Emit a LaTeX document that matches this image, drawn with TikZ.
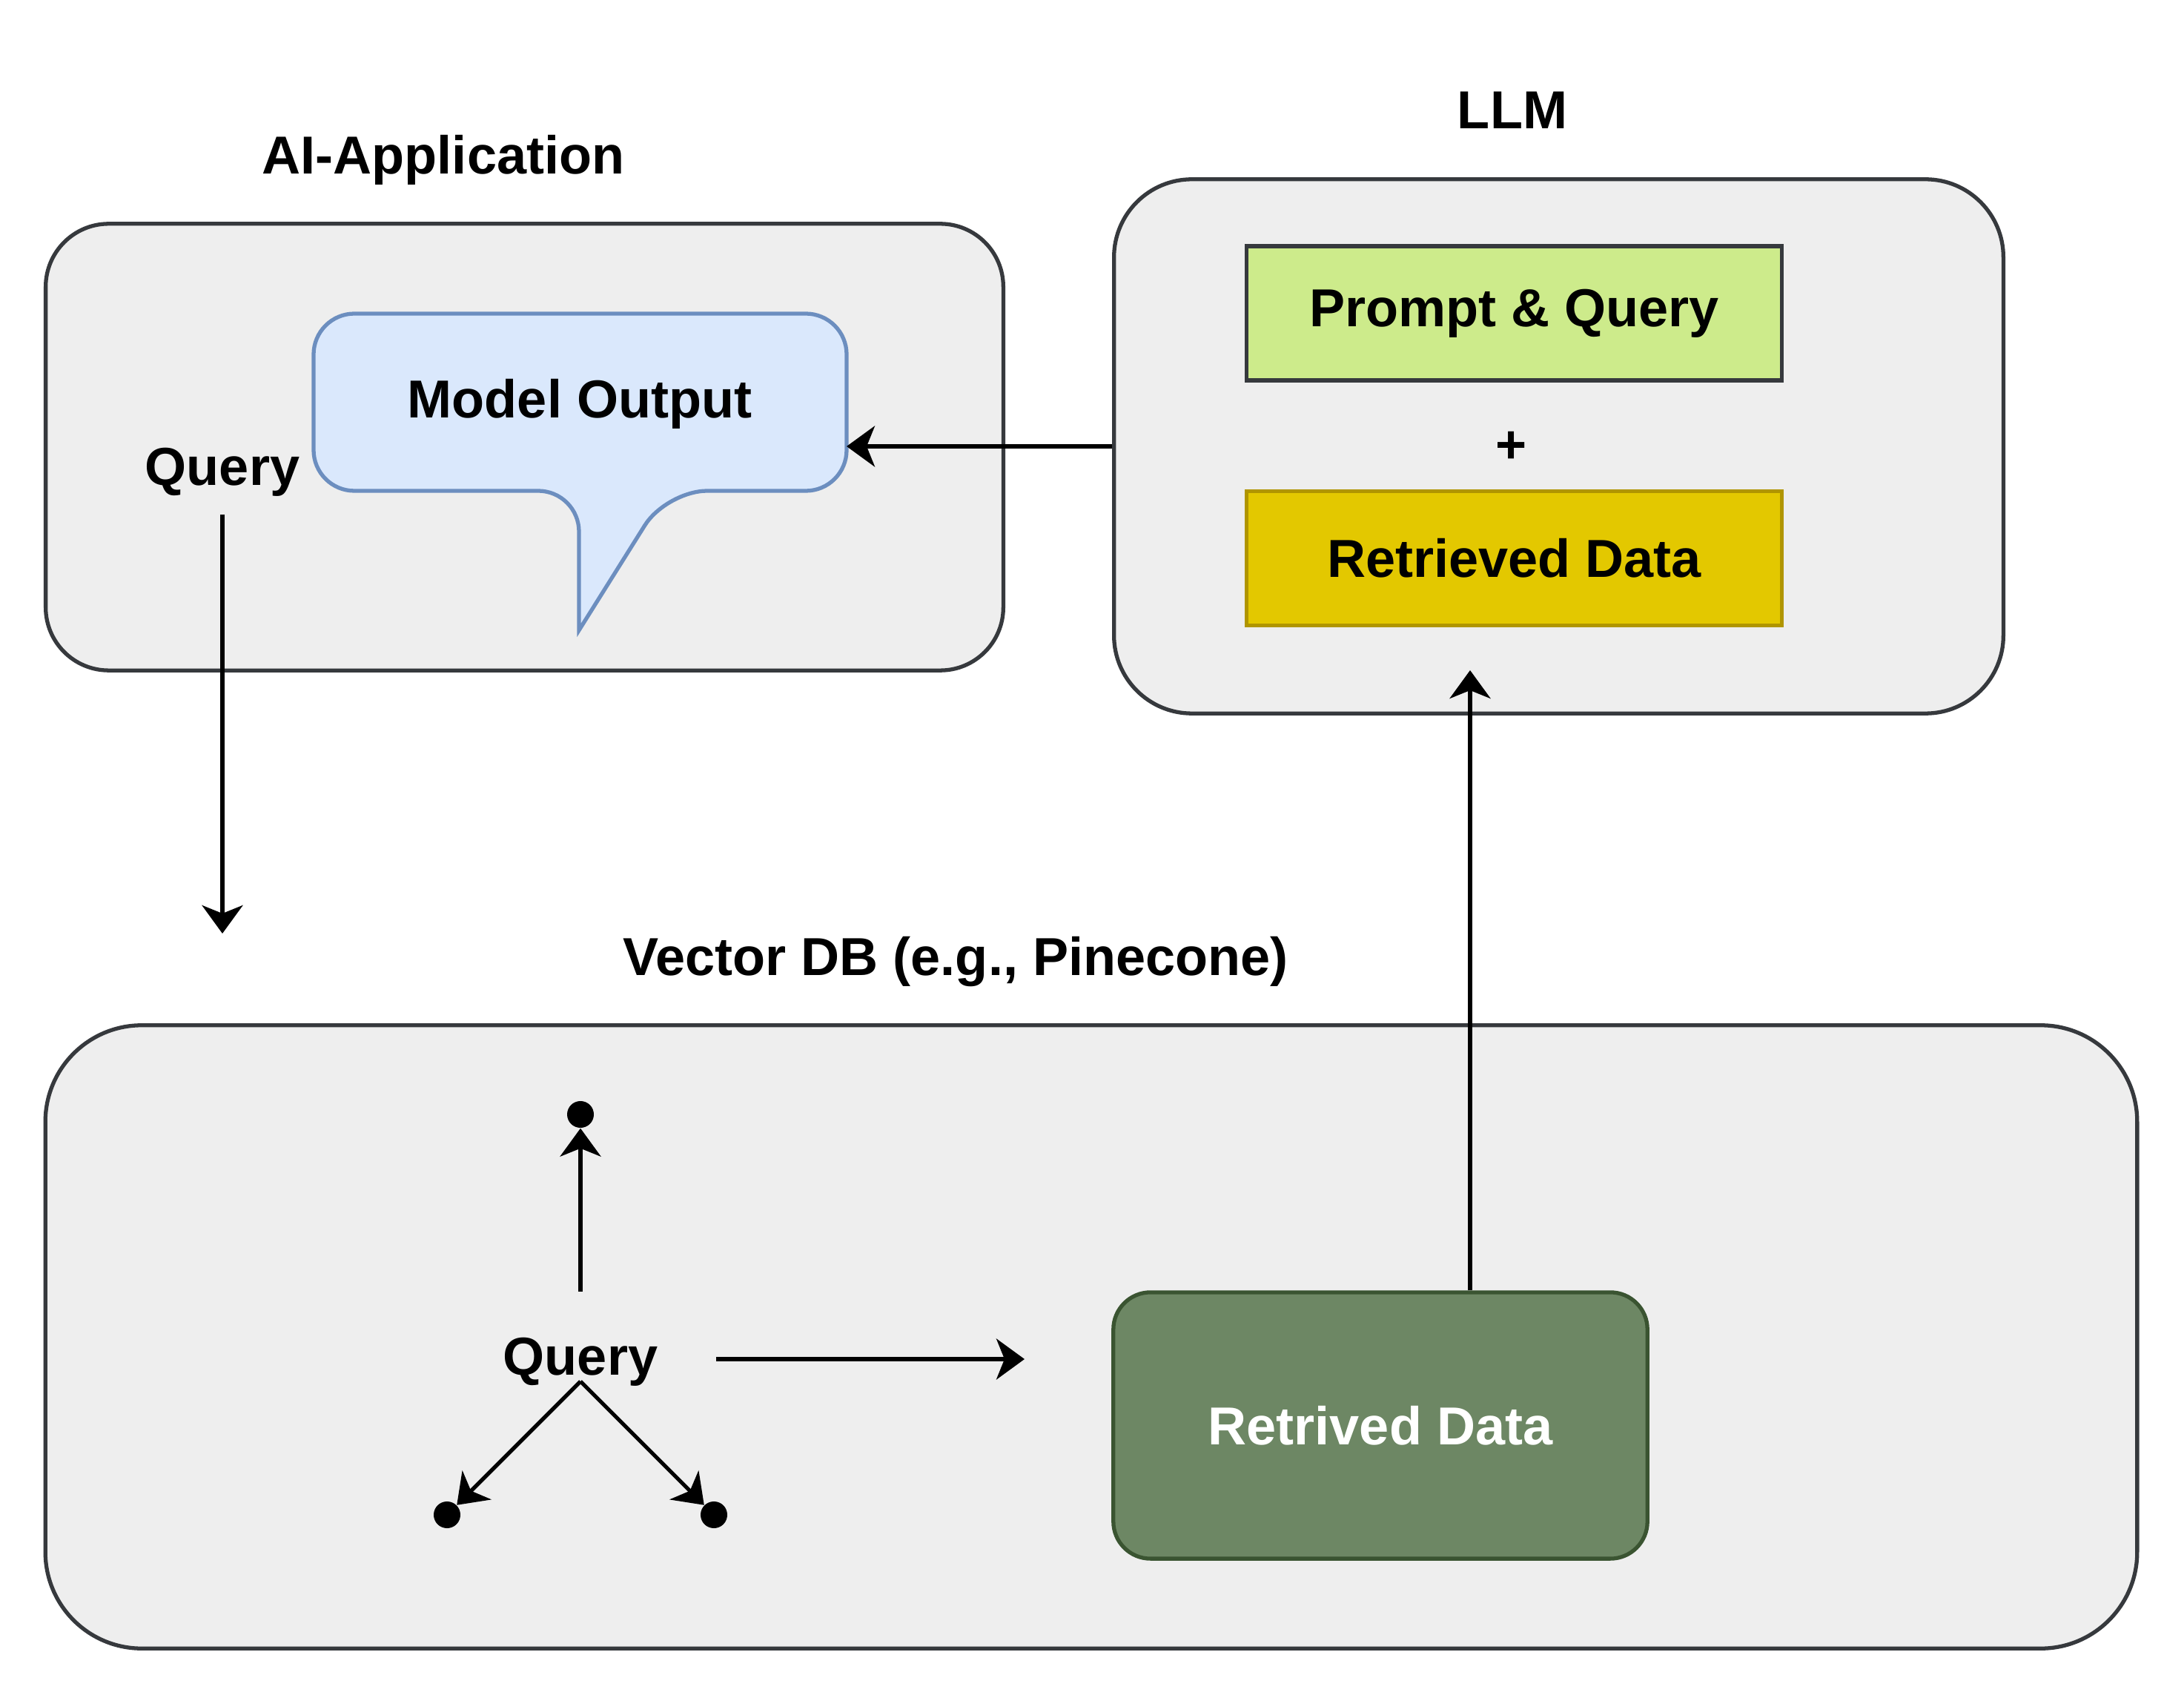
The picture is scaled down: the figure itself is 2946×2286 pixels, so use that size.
\documentclass[tikz,border=0pt]{standalone}
\usepackage{fontspec}
\setmainfont{Liberation Sans}
\usetikzlibrary{arrows.meta}

\definecolor{panelfill}{HTML}{EEEEEE}
\definecolor{panelline}{HTML}{36393D}
\definecolor{bubblefill}{HTML}{DAE8FC}
\definecolor{bubbleline}{HTML}{6C8EBF}
\definecolor{promptfill}{HTML}{CDEB8B}
\definecolor{retfill}{HTML}{E3C800}
\definecolor{retline}{HTML}{B09500}
\definecolor{foundfill}{HTML}{6D8764}
\definecolor{foundline}{HTML}{3A5431}

\begin{document}
\begin{tikzpicture}[x=0.01cm, y=-0.01cm,
  every node/.style={font=\fontsize{20.5}{24}\selectfont\bfseries, inner sep=0pt},
  label/.style={anchor=base},
  panel/.style={draw=panelline, fill=panelfill, line width=1.5pt},
  inbox/.style={line width=1.5pt, minimum width=7.21cm, minimum height=1.81cm},
  arr/.style={line width=1.5pt, -{Stealth[length=0.38cm, width=0.55cm, inset=0.11cm]}},
  dotnode/.style={circle, fill=black, minimum size=0.36cm}]
\useasboundingbox (0,0) rectangle (2946,2286);

% the three panels
\node[panel, rounded corners=0.85cm, minimum width=12.91cm, minimum height=6.02cm] (app) at (707.5,603) {};
\node[panel, rounded corners=1.05cm, minimum width=11.99cm, minimum height=7.2cm] (llm) at (2102.5,602) {};
\node[panel, rounded corners=1.3cm, minimum width=28.2cm, minimum height=8.4cm] (vdb) at (1472,1803) {};

\node[label] (apptitle) at (598,235) {AI-Application};
\node[label] (llmtitle) at (2040,174) {LLM};
\node[label] (vdbtitle) at (1289,1315) {Vector DB (e.g., Pinecone)};

% speech bubble
\draw[draw=bubbleline, fill=bubblefill, line width=1.5pt] (600,423) [rounded corners=0.55cm] -- (1142,423) -- (1142,662) -- (899,662) [sharp corners] -- (781,850) [rounded corners=0.55cm] -- (781,662) -- (423,662) -- (423,423) -- cycle;
\node[label] (outtext) at (782,564) {Model Output};
\coordinate (bubble) at (1142,602);

\node[label] (qa) at (300,655) {Query};
\coordinate (qdown) at (300,1259);
\draw[arr] ([yshift=-0.23cm]qa.south) -- (qdown);

% LLM content
\node[inbox, draw=panelline, fill=promptfill] (prompt) at (2042.5,422.5) {Prompt \& Query};
\node (plus) at (2039,603) {+};
\node[inbox, draw=retline, fill=retfill] (ret) at (2042.5,753) {Retrieved Data};
\draw[arr] (llm.west) -- (bubble);

% vector DB content
\node[draw=foundline, fill=foundfill, text=white, line width=1.5pt, rounded corners=0.5cm,
  minimum width=7.2cm, minimum height=3.59cm] (found) at (1862,1922.5) {Retrived Data};
\coordinate (llmin) at (1983,904);
\draw[arr] (found.north -| llmin) -- (llmin);

\node[label] (qb) at (783,1854) {Query};
\node[dotnode] (dtop) at (783,1503) {};
\node[dotnode] (dleft) at (603,2043) {};
\node[dotnode] (dright) at (963,2043) {};
\coordinate (vtop) at (783,1863);
\coordinate (qend) at (1382,1833);
\draw[arr] ([yshift=1.12cm]qb.base) -- (dtop);
\draw[arr] (vtop) -- (dleft);
\draw[arr] (vtop) -- (dright);
\draw[arr] ([xshift=0.78cm]qb.east |- qend) -- (qend);
\end{tikzpicture}
\end{document}
